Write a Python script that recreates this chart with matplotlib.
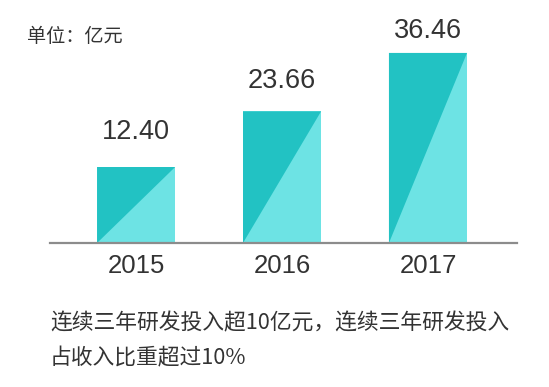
import matplotlib
matplotlib.use("Agg")
import matplotlib.pyplot as plt
import numpy as np
from matplotlib.patches import Polygon

# ---- data ----
years = ["2015", "2016", "2017"]
values = [12.40, 23.66, 36.46]
value_labels = ["12.40", "23.66", "36.46"]
unit_text = "单位：亿元"
note_line1 = "连续三年研发投入超10亿元，连续三年研发投入"
note_line2 = "占收入比重超过10%"

# ---- style ----
dark = "#22C2C3"
light = "#6DE3E4"
text_col = "#333333"
axis_col = "#8C8C8C"
label_pad_px = [22, 17, 9]
power = 0.85

W, H = 549, 387
fig = plt.figure(figsize=(W / 100, H / 100), dpi=100)
ax = fig.add_axes([50 / W, (H - 243) / H, 467 / W, 223 / H])

ax.set_yscale("function", functions=(lambda v: np.sign(v) * np.abs(v) ** power,
                                     lambda t: np.sign(t) * np.abs(t) ** (1 / power)))

x = np.arange(len(years))
width = 0.535
bars = ax.bar(x, values, width=width, color=light, edgecolor="none", zorder=2)
for xi, v in zip(x, values):
    tri = Polygon([(xi - width / 2, 0), (xi + width / 2, v), (xi - width / 2, v)],
                  closed=True, facecolor=dark, edgecolor="none", zorder=3)
    ax.add_patch(tri)

for xi, v, lab, pad in zip(x, values, value_labels, label_pad_px):
    ax.annotate(lab, (xi, v), xytext=(0, pad * 0.72), textcoords="offset points",
                ha="center", va="bottom", fontsize=19.5, color=text_col,
                family=["Liberation Sans", "DejaVu Sans"])

ax.set_xlim(-0.59, 2.61)
ax.set_ylim(0, 44.0)
ax.set_xticks(x)
ax.set_xticklabels(years, fontsize=18.5, color=text_col, family=["Liberation Sans", "DejaVu Sans"])
ax.tick_params(axis="x", length=0, pad=8)
ax.set_yticks([])
for s in ["top", "left", "right"]:
    ax.spines[s].set_visible(False)
ax.spines["bottom"].set_color(axis_col)
ax.spines["bottom"].set_linewidth(1.6)
ax.spines["bottom"].set_zorder(4)
ax.patch.set_visible(False)

fig.text(27 / W, 1 - 37 / H, unit_text, ha="left", va="center", fontsize=13.8,
         color=text_col, family=["Noto Sans CJK SC", "DejaVu Sans"])
fig.text(50 / W, 1 - 323 / H, note_line1, ha="left", va="center", fontsize=15.7,
         color=text_col, family=["Noto Sans CJK SC", "DejaVu Sans"])
fig.text(50 / W, 1 - 358 / H, note_line2, ha="left", va="center", fontsize=15.7,
         color=text_col, family=["Noto Sans CJK SC", "DejaVu Sans"])

fig.savefig("out.png", dpi=100)
